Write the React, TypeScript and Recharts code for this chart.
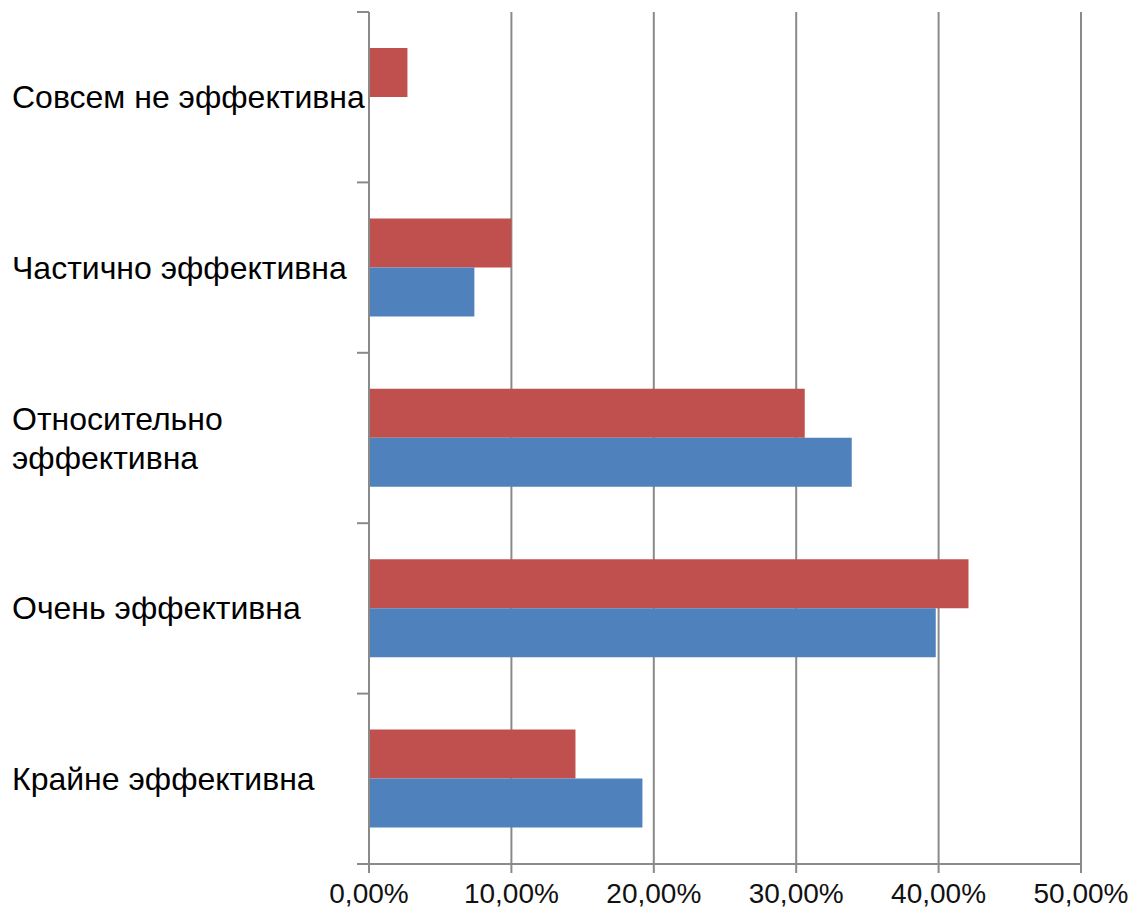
import React from 'react';
import { BarChart, Bar, XAxis, YAxis, CartesianGrid } from 'recharts';

const categories = [
  'Совсем не эффективна',
  'Частично эффективна',
  'Относительно эффективна',
  'Очень эффективна',
  'Крайне эффективна',
];
const redValues = [0.027, 0.1, 0.306, 0.421, 0.145];
const blueValues = [0, 0.074, 0.339, 0.398, 0.192];
const xTicks = [0, 0.1, 0.2, 0.3, 0.4, 0.5];

const data = categories.map((name, i) => ({
  name,
  red: redValues[i],
  blue: blueValues[i],
}));

const WIDTH = 1136;
const HEIGHT = 913;
const MARGIN = { top: 12, right: 55, bottom: 0, left: 0 };
const Y_AXIS_W = 369;
const X_AXIS_H = 49;
const PLOT_H = HEIGHT - MARGIN.top - MARGIN.bottom - X_AXIS_H;
const BAND = PLOT_H / categories.length;
const AXIS_COLOR = '#8a8a8a';

// greedy word wrap, Excel wraps the long label
const wrap = (text: string, maxChars = 21) => {
  const lines: string[] = [];
  let cur = '';
  text.split(' ').forEach((w) => {
    if (cur && (cur + ' ' + w).length > maxChars) {
      lines.push(cur);
      cur = w;
    } else {
      cur = cur ? cur + ' ' + w : w;
    }
  });
  if (cur) lines.push(cur);
  return lines;
};

const CategoryTick = ({ y, payload, index }: any) => {
  const lines = wrap(payload.value);
  const lh = 39;
  const startY = y - ((lines.length - 1) * lh) / 2;
  return (
    <g>
      <line x1={Y_AXIS_W - 12} x2={Y_AXIS_W} y1={y - BAND / 2} y2={y - BAND / 2} stroke={AXIS_COLOR} strokeWidth={2} />
      {index === categories.length - 1 && (
        <line x1={Y_AXIS_W - 12} x2={Y_AXIS_W} y1={y + BAND / 2} y2={y + BAND / 2} stroke={AXIS_COLOR} strokeWidth={2} />
      )}
      <text x={12} y={startY} textAnchor="start" dominantBaseline="central" fontSize={32} fill="#000" fontFamily="Liberation Sans, Arial, sans-serif">
        {lines.map((l, i) => (
          <tspan key={i} x={12} y={startY + i * lh}>
            {l}
          </tspan>
        ))}
      </text>
    </g>
  );
};

const fmtPct = (v: number) => (v * 100).toFixed(2).replace('.', ',') + '%';

export default function App() {
  return (
    <div style={{ position: 'absolute', left: 0, top: 0, width: WIDTH, height: HEIGHT, background: '#fff' }}>
      <BarChart
        width={WIDTH}
        height={HEIGHT}
        data={data}
        layout="vertical"
        margin={MARGIN}
        barGap={0}
        barSize={49}
      >
        <CartesianGrid horizontal={false} stroke={AXIS_COLOR} strokeWidth={2} strokeDasharray="" />
        <XAxis
          type="number"
          domain={[0, 0.5]}
          ticks={xTicks}
          tickFormatter={fmtPct}
          height={X_AXIS_H}
          axisLine={{ stroke: AXIS_COLOR, strokeWidth: 2 }}
          tickLine={{ stroke: AXIS_COLOR, strokeWidth: 2 }}
          tickSize={9}
          tickMargin={10}
          tick={{ fontSize: 28, fill: '#111', fontFamily: 'Liberation Sans, Arial, sans-serif' }}
          interval={0}
        />
        <YAxis
          type="category"
          dataKey="name"
          width={Y_AXIS_W}
          axisLine={{ stroke: AXIS_COLOR, strokeWidth: 2 }}
          tickLine={false}
          tick={<CategoryTick />}
          interval={0}
        />
        <Bar dataKey="red" fill="#C0504D" isAnimationActive={false} />
        <Bar dataKey="blue" fill="#4F81BD" isAnimationActive={false} />
      </BarChart>
    </div>
  );
}
